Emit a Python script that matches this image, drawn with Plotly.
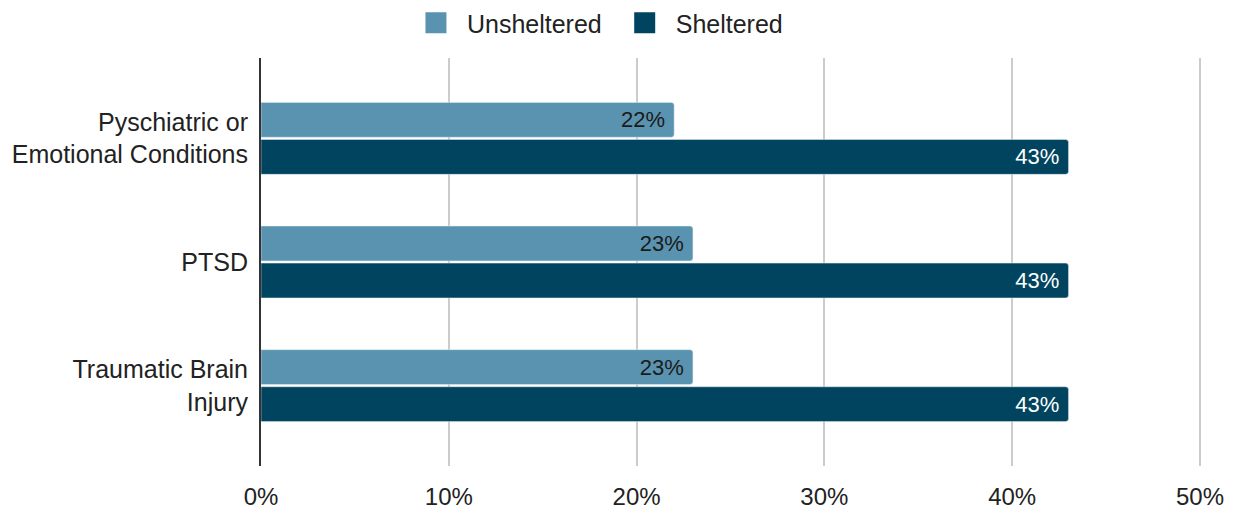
import plotly.graph_objects as go

categories = ["Pyschiatric or<br>Emotional Conditions", "PTSD", "Traumatic Brain<br>Injury"]
unsheltered = [22, 23, 23]
sheltered = [43, 43, 43]
tick_vals = [0, 10, 20, 30, 40, 50]
tick_text = ["0%", "10%", "20%", "30%", "40%", "50%"]

FONT = "Liberation Sans, Arial, sans-serif"
C_UN = "#5a93b0"
C_SH = "#01445f"

fig = go.Figure()
fig.add_trace(go.Bar(
    y=categories, x=unsheltered, name="Unsheltered", orientation="h",
    marker=dict(color=C_UN, cornerradius=3), showlegend=False,
    texttemplate="%{x}%\u00a0", textposition="inside",
    insidetextanchor="end", textfont=dict(color="#1a1a1a", size=22, family=FONT),
))
fig.add_trace(go.Bar(
    y=categories, x=sheltered, name="Sheltered", orientation="h",
    marker=dict(color=C_SH, cornerradius=3), showlegend=False,
    texttemplate="%{x}%\u00a0", textposition="inside",
    insidetextanchor="end", textfont=dict(color="white", size=22, family=FONT),
))
for name, col in [("Unsheltered", C_UN), ("Sheltered", C_SH)]:
    fig.add_trace(go.Scatter(
        x=[None], y=[None], mode="markers", name=name + "\u00a0",
        marker=dict(symbol="square", size=16, color=col, line=dict(color=col, width=5)),
    ))

fig.update_layout(
    width=1236, height=510,
    margin=dict(l=261, r=30, t=58, b=44, autoexpand=False),
    paper_bgcolor="white", plot_bgcolor="white",
    barmode="group", bargap=0.4, bargroupgap=0.06,
    font=dict(family=FONT, size=25, color="#222"),
    legend=dict(orientation="h", x=0.4854, xanchor="center", xref="container",
                y=1.0, yanchor="top", yref="container",
                font=dict(size=25, color="#222"),
                itemwidth=52, traceorder="normal"),
    uniformtext=dict(mode="show", minsize=22),
)
fig.update_xaxes(range=[0, 50.32], tickvals=tick_vals, ticktext=tick_text,
                 showgrid=True, gridcolor="#cccccc", gridwidth=1.5, zeroline=False,
                 tickfont=dict(size=24, color="#222"), ticks="", ticklabelstandoff=14,
                 automargin=False)
fig.update_yaxes(autorange=False, range=[2.65, -0.65], showline=True, linecolor="#333333",
                 linewidth=2, showgrid=False, ticks="", tickfont=dict(size=25, color="#222"),
                 ticklabelstandoff=6, automargin=False)

fig.write_html("out.html", config={"displayModeBar": False},
               post_script="document.body.style.margin='0';")
